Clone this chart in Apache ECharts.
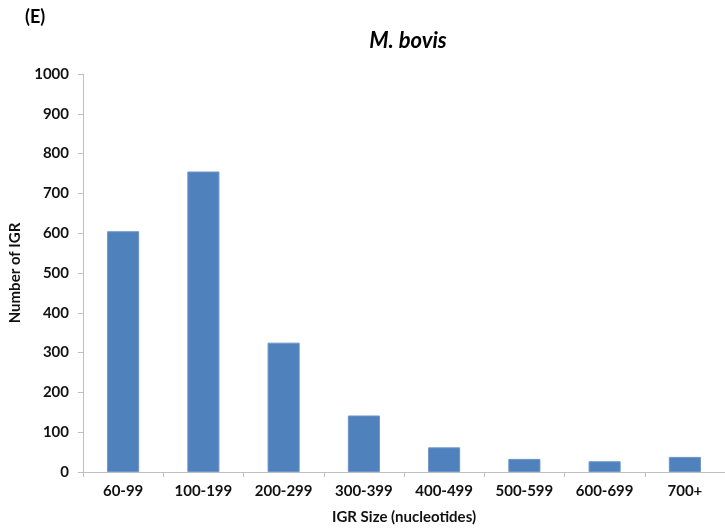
<!DOCTYPE html>
<html><head><meta charset="utf-8">
<script src="https://cdn.jsdelivr.net/npm/echarts@6/dist/echarts.min.js"></script>
<style>html,body{margin:0;padding:0;background:#fff}#c{width:725px;height:530px}</style>
</head><body><div id="c"></div>
<script>
const categories = ["60-99","100-199","200-299","300-399","400-499","500-599","600-699","700+"];
const values = [605, 755, 325, 142, 62, 33, 27, 38];
const yTicks = [0,100,200,300,400,500,600,700,800,900,1000];

const chart = echarts.init(document.getElementById('c'), null, {renderer:'canvas'});
const font = 'Lato, "Open Sans", sans-serif';
chart.setOption({
  animation:false,
  graphic:[{type:'text', left:25, top:8, style:{text:'(E)', font:'bold 18px ' + font, fill:'#000'}}],
  title:{text:'M. bovis', left:403, top:25, textAlign:'center',
    textStyle:{fontStyle:'italic', fontWeight:'bold', fontSize:22, fontFamily:font, color:'#000'}},
  grid:{left:80, right:0, top:74, bottom:58},
  xAxis:{type:'category', data:categories,
    name:'IGR Size (nucleotides)', nameLocation:'middle', nameGap:38,
    nameTextStyle:{fontWeight:'bold', fontSize:15, fontFamily:font, color:'#111'},
    axisLine:{lineStyle:{color:'#bfbfbf'}},
    axisTick:{show:true, length:5, lineStyle:{color:'#bfbfbf'}},
    axisLabel:{fontWeight:'bold', fontSize:15, fontFamily:font, color:'#111', margin:12}},
  yAxis:{type:'value', min:yTicks[0], max:yTicks[yTicks.length-1], interval:100,
    name:'Number of IGR', nameLocation:'middle', nameGap:60, nameRotate:90,
    nameTextStyle:{fontWeight:'bold', fontSize:15, fontFamily:font, color:'#111'},
    axisLine:{show:true, lineStyle:{color:'#bfbfbf'}},
    axisTick:{show:true, length:5, lineStyle:{color:'#bfbfbf'}},
    splitLine:{show:false},
    axisLabel:{fontWeight:'bold', fontSize:15, fontFamily:font, color:'#111', margin:14,
      formatter:v => String(v)}},
  series:[{type:'bar', data:values, barCategoryGap:'60%',
    itemStyle:{color:'#4F81BD', borderColor:'#6f96c8', borderWidth:1}}]
});
</script></body></html>
